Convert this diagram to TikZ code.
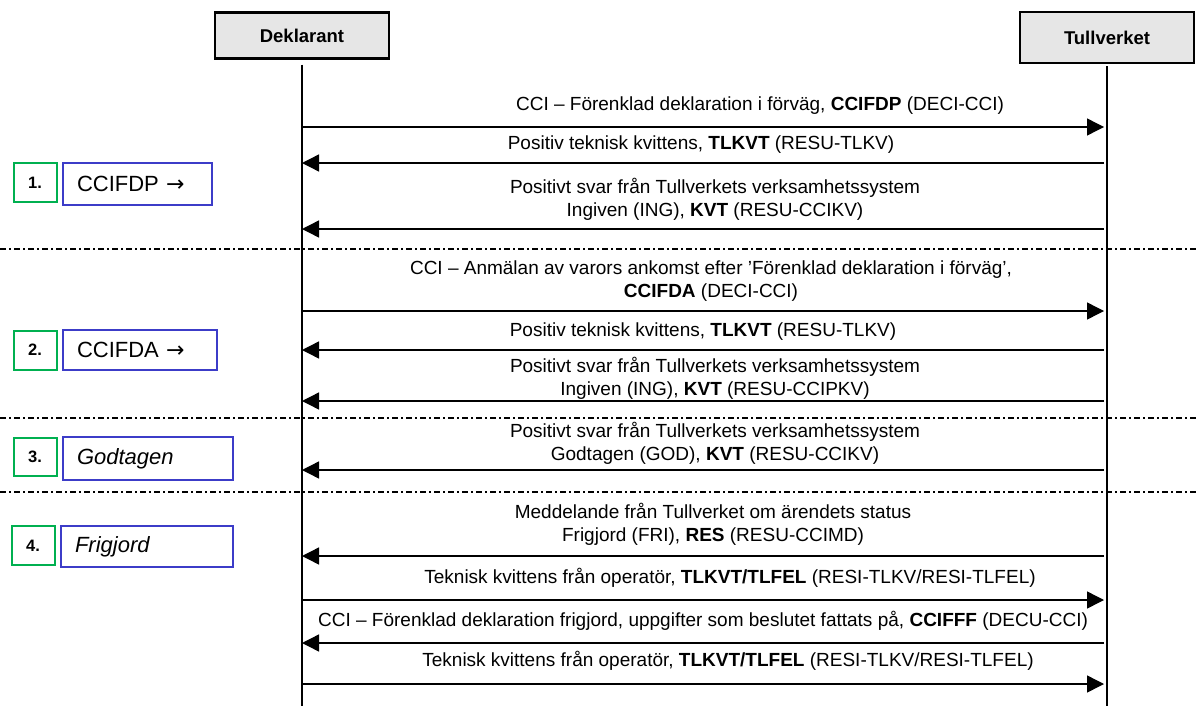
\documentclass[tikz,border=0pt]{standalone}
\usepackage{fontspec}
\setmainfont{Liberation Sans}
\newfontfamily\symfont{DejaVu Sans}
\usetikzlibrary{arrows.meta}

\definecolor{stepgreen}{RGB}{0,176,80}
\definecolor{stepblue}{RGB}{60,60,200}
\definecolor{actorgray}{RGB}{230,230,230}

\tikzset{
  actor/.style={draw, line width=2.5pt, fill=actorgray, minimum width=174pt, font=\fontsize{18.5}{22}\selectfont\bfseries},
  life/.style={line width=1.8pt},
  msg/.style={line width=1.4pt, -{Triangle[length=17pt,width=17pt]}},
  lbl/.style={align=center, inner sep=0pt, font=\fontsize{19}{23}\selectfont},
  sep/.style={line width=1.3pt, dash pattern=on 6pt off 3pt on 2pt off 3pt},
  nr/.style={draw=stepgreen, line width=2pt, minimum width=43pt, minimum height=39pt, font=\fontsize{16.5}{18}\selectfont\bfseries},
  stepbox/.style={draw=stepblue, line width=1.4pt, text width=#1, inner xsep=14pt, align=left, font=\fontsize{22}{24}\selectfont}
}

\begin{document}
\begin{tikzpicture}[x=1pt,y=-1pt]
  \useasboundingbox (0,0) rectangle (1198,706);

  % actors and lifelines
  \node[actor, minimum height=46pt] (dek) at (302,35.5) {Deklarant};
  \node[actor, minimum height=51pt] (tul) at (1107,37.5) {Tullverket};
  \coordinate (dekEnd) at (302,706);
  \coordinate (tulEnd) at (1107,706);
  \draw[life, shorten <=5pt] (dek.south) -- (dekEnd);
  \draw[life, shorten <=2pt] (tul.south) -- (tulEnd);

  % steps
  \node[nr] (n1) at (35,182.5) {1.};
  \node[stepbox=121pt, minimum height=42pt] (s1) at (137.5,184) {CCIFDP {\symfont →}};
  \node[nr] (n2) at (35,350) {2.};
  \node[stepbox=126pt, minimum height=40pt] (s2) at (140,350) {CCIFDA {\symfont →}};
  \node[nr, minimum height=38pt] (n3) at (35,457) {3.};
  \node[stepbox=142pt, minimum height=43pt] (s3) at (148,458.5) {\itshape Godtagen};
  \node[nr] (n4) at (33,545.5) {4.};
  \node[stepbox=144pt, minimum height=41pt] (s4) at (147,546.5) {\itshape Frigjord};

  % separators
  \coordinate (sep1a) at (0,249);   \coordinate (sep1b) at (1198,249);
  \coordinate (sep2a) at (0,418);   \coordinate (sep2b) at (1198,418);
  \coordinate (sep3a) at (0,492);   \coordinate (sep3b) at (1198,492);
  \draw[sep] (sep1a) -- (sep1b);
  \draw[sep] (sep2a) -- (sep2b);
  \draw[sep] (sep3a) -- (sep3b);

  % messages
  \coordinate (m1) at (0,127);
  \coordinate (m2) at (0,163);
  \coordinate (m3) at (0,229);
  \coordinate (m4) at (0,311);
  \coordinate (m5) at (0,350);
  \coordinate (m6) at (0,401);
  \coordinate (m7) at (0,470);
  \coordinate (m8) at (0,556);
  \coordinate (m9) at (0,600);
  \coordinate (m10) at (0,643);
  \coordinate (m11) at (0,684);

  \draw[msg, shorten >=3pt] (m1 -| dek) -- (m1 -| tul);
  \draw[msg, shorten <=3pt] (m2 -| tul) -- (m2 -| dek);
  \draw[msg, shorten <=3pt] (m3 -| tul) -- (m3 -| dek);
  \draw[msg, shorten >=3pt] (m4 -| dek) -- (m4 -| tul);
  \draw[msg, shorten <=3pt] (m5 -| tul) -- (m5 -| dek);
  \draw[msg, shorten <=3pt] (m6 -| tul) -- (m6 -| dek);
  \draw[msg, shorten <=3pt] (m7 -| tul) -- (m7 -| dek);
  \draw[msg, shorten <=3pt] (m8 -| tul) -- (m8 -| dek);
  \draw[msg, shorten >=3pt] (m9 -| dek) -- (m9 -| tul);
  \draw[msg, shorten <=3pt] (m10 -| tul) -- (m10 -| dek);
  \draw[msg, shorten >=3pt] (m11 -| dek) -- (m11 -| tul);

  % message labels
  \node[lbl] (l1) at (760,106) {CCI – Förenklad deklaration i förväg, \textbf{CCIFDP} (DECI-CCI)};
  \node[lbl] (l2) at (701,145) {Positiv teknisk kvittens, \textbf{TLKVT} (RESU-TLKV)};
  \node[lbl] (l3) at (715,199.5) {Positivt svar från Tullverkets verksamhetssystem\\Ingiven (ING), \textbf{KVT} (RESU-CCIKV)};
  \node[lbl] (l4) at (711,281) {CCI – Anmälan av varors ankomst efter ’Förenklad deklaration i förväg’,\\\textbf{CCIFDA} (DECI-CCI)};
  \node[lbl] (l5) at (703,332) {Positiv teknisk kvittens, \textbf{TLKVT} (RESU-TLKV)};
  \node[lbl] (l6) at (715,378) {Positivt svar från Tullverkets verksamhetssystem\\Ingiven (ING), \textbf{KVT} (RESU-CCIPKV)};
  \node[lbl] (l7) at (715,443) {Positivt svar från Tullverkets verksamhetssystem\\Godtagen (GOD), \textbf{KVT} (RESU-CCIKV)};
  \node[lbl] (l8) at (713,524) {Meddelande från Tullverket om ärendets status\\Frigjord (FRI), \textbf{RES} (RESU-CCIMD)};
  \node[lbl] (l9) at (730,578) {Teknisk kvittens från operatör, \textbf{TLKVT/TLFEL} (RESI-TLKV/RESI-TLFEL)};
  \node[lbl] (l10) at (703,621) {CCI – Förenklad deklaration frigjord, uppgifter som beslutet fattats på, \textbf{CCIFFF} (DECU-CCI)};
  \node[lbl] (l11) at (728,661) {Teknisk kvittens från operatör, \textbf{TLKVT/TLFEL} (RESI-TLKV/RESI-TLFEL)};
\end{tikzpicture}
\end{document}
